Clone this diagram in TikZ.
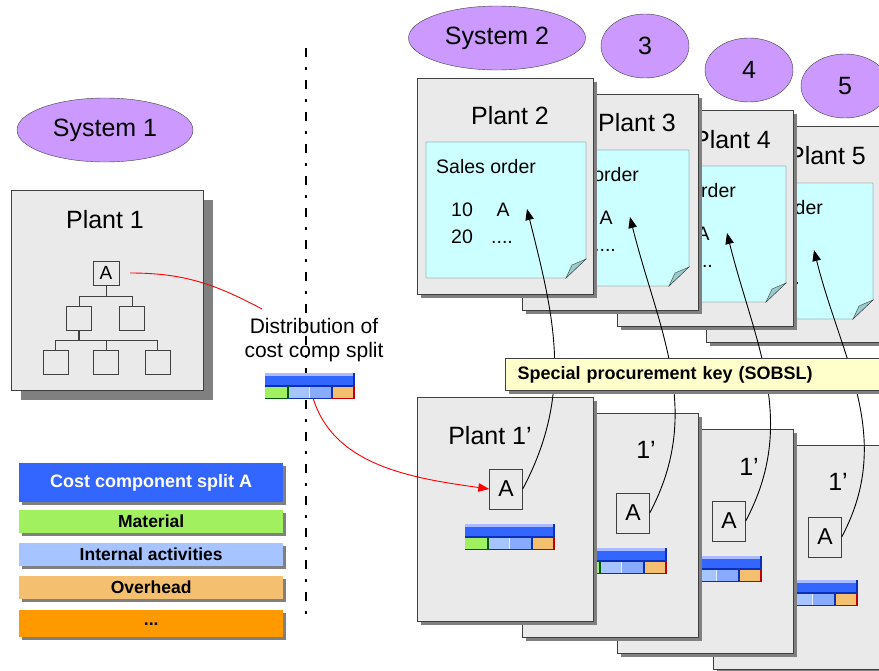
\documentclass[tikz,border=0pt]{standalone}
\usepackage{fontspec}
\setmainfont{Liberation Sans}
\usetikzlibrary{shapes.geometric,shadows,arrows.meta}
\definecolor{lilac}{HTML}{CC99FF}
\definecolor{plantgray}{HTML}{EAEAEA}
\definecolor{framegray}{HTML}{404040}
\definecolor{shadegray}{HTML}{808080}
\definecolor{notecyan}{HTML}{CCFFFF}
\definecolor{foldteal}{HTML}{99CCCC}
\definecolor{keyyellow}{HTML}{FFFFCC}
\definecolor{splitblue}{HTML}{3366FF}
\definecolor{splitlite}{HTML}{AABBFF}
\definecolor{splitdark}{HTML}{0B2FB8}
\definecolor{matgreen}{HTML}{A0F060}
\definecolor{actblue}{HTML}{A6C4FF}
\definecolor{actblue2}{HTML}{88AAFF}
\definecolor{ovhtan}{HTML}{F4C070}
\definecolor{dotsorange}{HTML}{FF9900}
\tikzset{
  costbar/.pic={
    \fill[splitblue] (0,0) rectangle (90,13);
    \fill[splitlite] (0,0) rectangle (90,3);
    \fill[matgreen] (0,13) rectangle (23,26);
    \fill[actblue] (23,13) rectangle (44,26);
    \fill[actblue2] (44,13) rectangle (67,26);
    \fill[ovhtan] (67,13) rectangle (90,26);
    \draw[white!70!actblue,line width=0.8pt] (44,14) -- (44,25);
    \draw[splitdark,line width=1.6pt] (0,13) -- (90,13) (89,0) -- (89,13);
    \draw[green!35!black,line width=1.6pt] (0,25.5) -- (23,25.5) -- (23,13);
    \draw[splitdark,line width=1.6pt] (23,25.5) -- (67,25.5) -- (67,13);
    \draw[red!75!black,line width=1.6pt] (67,25.5) -- (89,25.5) -- (89,13);
  }
}
\begin{document}
\begin{tikzpicture}[x=1pt,y=-1pt,
  sys/.style={ellipse,draw=framegray,fill=lilac,font=\fontsize{25}{30}\selectfont,minimum height=64pt,inner sep=0pt},
  boxshadow/.style={drop shadow={shadow xshift=#1,shadow yshift=-#1,fill=shadegray,opacity=1}},
  boxshadow/.default=3pt,
  plant/.style={draw=framegray,fill=plantgray,line width=1pt,minimum width=176pt,anchor=north west,inner sep=0pt},
  ttl/.style={font=\fontsize{25}{30}\selectfont},
  txt/.style={anchor=base,font=\fontsize{19.5}{22}\selectfont,inner sep=0pt},
  smallbox/.style={draw=framegray,fill=plantgray,minimum width=25pt,minimum height=24pt,inner sep=0pt},
  abox/.style={draw=framegray,fill=plantgray,minimum width=33pt,minimum height=40pt,inner sep=0pt,font=\fontsize{23}{27}\selectfont},
  legend/.style={anchor=north west,minimum width=264pt,inner sep=0pt,font=\bfseries\fontsize{17.5}{20}\selectfont,boxshadow},
  link/.style={line width=0.9pt,-{Triangle[length=11pt,width=8.5pt]}},
]
\useasboundingbox (0,0) rectangle (879,670);
\clip (0,0) rectangle (879,670);

% system 1
\node[sys,minimum width=176pt] (sys1) at (105,130) {System 1};
\node[plant,minimum width=192pt,minimum height=200pt,boxshadow=9pt] (p1) at (11,190) {};
\node[ttl] (pt1) at (105,220) {Plant 1};
\node[smallbox,minimum width=26pt,font=\fontsize{19}{22}\selectfont] (a0) at (106,273) {A};
\node[smallbox] (m1) at (79,318) {};
\node[smallbox] (m2) at (132,318) {};
\node[smallbox] (b1) at (55.5,362.5) {};
\node[smallbox] (b2) at (106,362.5) {};
\node[smallbox] (b3) at (157.5,362.5) {};
\draw[framegray] (a0.south) -- ++(0,11) coordinate (j1);
\draw[framegray] (m1.north) |- (j1) -| (m2.north);
\draw[framegray,line width=1.6pt] (m1.south) -- ++(0,10) coordinate (j2);
\draw[framegray] (b1.north) |- (j2) -| (b3.north);
\draw[framegray] (b2.north) -- (b2.north |- j2);

\draw[line width=2.7pt,dash pattern=on 9pt off 10pt on 3pt off 10pt] (306,48) -- (306,620);

\node[align=center,font=\fontsize{21}{24}\selectfont] (dist) at (314,340) {Distribution of\\cost comp split};
\coordinate (distin) at (262,309);
\coordinate (iconmid) at (310,385);
\draw[red,line width=0.9pt] ([xshift=11pt]a0.east) to[out=0,in=152] (distin);

% system 2 to 5
\node[sys,minimum width=177pt] (sys2) at (497,38) {System 2};
\foreach \n/\x/\y in {3/645/46,4/749/70,5/845/86}
  \node[sys,minimum width=88pt] (sys\n) at (\x,\y) {\n};

\foreach \n/\x/\y/\tx/\ty/\nx/\ny in {5/706/126/827/156/713/183,4/617/110/732/140/626/166,3/522/94/637/123/529/150,2/417/78/510/116/426/142} {
  \node[plant,minimum height=216pt,boxshadow] (p\n) at (\x,\y) {};
  \node[ttl] (pt\n) at (\tx,\ty) {Plant \n};
  \pgfmathsetmacro\r{\nx+160}
  \pgfmathsetmacro\b{\ny+136}
  \draw[framegray,fill=notecyan] (\nx,\ny) -- (\r,\ny) -- (\r,\b-19) -- (\r-20,\b) -- (\nx,\b) -- cycle;
  \draw[framegray,fill=foldteal] (\r,\b-19) -- (\r-20,\b) -- (\r-14,\b-13) -- cycle;
  \node[txt,anchor=base west] (so\n) at (\nx+10,\ny+31) {Sales order};
  \node[txt] (ten\n) at (\nx+36,\ny+74) {10};
  \node[txt] (sa\n) at (\nx+77,\ny+74) {A};
  \node[txt] (tw\n) at (\nx+36,\ny+101) {20};
  \node[txt] (dt\n) at (\nx+76,\ny+101) {....};
  \coordinate (tip\n) at (\nx+101,\ny+67);
}

% plant 1' stack
\foreach \n/\x/\y/\tx/\ty/\ax/\ay/\bx/\by in {4/713/445/838/482/825/537/768/580,3/617/429/749/467/729/521/672/556,2/522/413/646/450/633/513/577/548} {
  \node[plant,minimum height=224pt,boxshadow] (r\n) at (\x,\y) {};
  \node[ttl] (rt\n) at (\tx,\ty) {1’};
  \node[abox] (q\n) at (\ax,\ay) {A};
  \pic at (\bx,\by) {costbar};
}
\node[plant,minimum height=224pt,boxshadow] (r1) at (417,397) {};
\node[ttl] (rt1) at (490,436) {Plant 1’};
\node[abox] (q1) at (506,489) {A};
\pic at (465,524) {costbar};

\foreach \n/\m in {1/2,2/3,3/4,4/5}
  \draw[link] (q\n.east) to[out=62,in=-76] (tip\m);

\node[plant,minimum width=395pt,minimum height=32pt,boxshadow,inner xsep=12pt,text width=371pt,font=\bfseries\fontsize{18}{21}\selectfont,fill=keyyellow] (key) at (505,358) {Special procurement key (SOBSL)};

\draw[red,link] (iconmid) to[out=-80,in=172] (q1.west);
\pic at (265,373) {costbar};

% legend
\node[legend,minimum height=39pt,fill=splitblue,text=white,font=\bfseries\fontsize{18}{21}\selectfont] (leg1) at (19,463) {Cost component split A};
\foreach \t/\i/\y/\c in {Material/2/510/matgreen,Internal activities/3/543/actblue,Overhead/4/576/ovhtan}
  \node[legend,minimum height=23pt,fill=\c] (leg\i) at (19,\y) {\t};
\node[legend,minimum height=27pt,fill=dotsorange] (leg5) at (19,610) {...};
\end{tikzpicture}
\end{document}
